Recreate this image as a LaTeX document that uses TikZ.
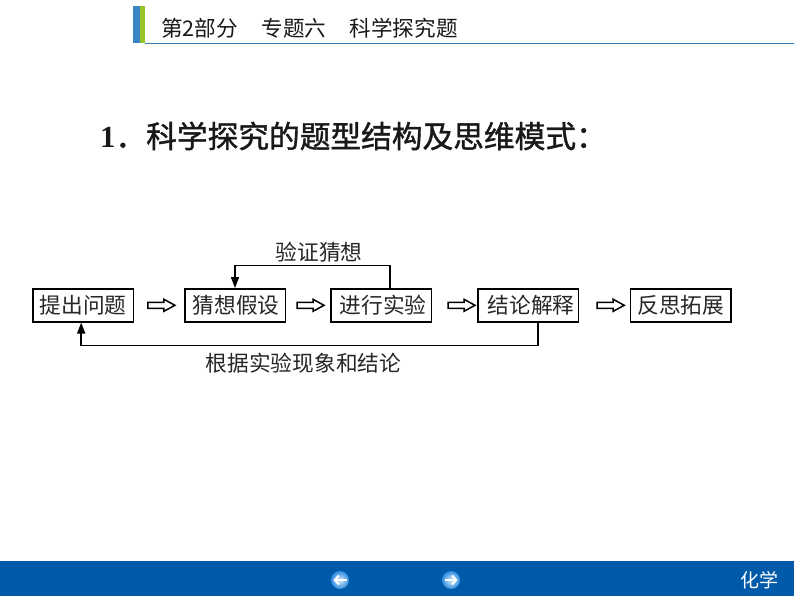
\documentclass[tikz,border=0pt]{standalone}
\usepackage{fontspec}
\usetikzlibrary{arrows.meta,calc}
\setmainfont{Noto Sans CJK SC}
\newfontfamily\cjkheavy[FakeBold=1.3]{Noto Sans CJK SC}
\newfontfamily\numserif{Liberation Serif}
\definecolor{barblue}{RGB}{0,90,170}
\definecolor{stripblue}{RGB}{58,134,196}
\definecolor{stripgreen}{RGB}{150,195,40}
\definecolor{rulecol}{RGB}{55,125,175}
\definecolor{btnlight}{RGB}{215,238,250}
\definecolor{btndark}{RGB}{50,140,225}
\tikzset{
  x=1pt,y=-1pt,
  flowbox/.style={draw=black,line width=1.5pt,minimum width=100.5pt,minimum height=33pt,inner sep=0pt,font=\fontsize{21.7}{24}\selectfont,text=black!85},
  caption/.style={font=\fontsize{21.7}{24}\selectfont,text=black!85,inner sep=0pt},
  feedback/.style={draw=black,line width=1.5pt,-{Triangle[length=11pt,width=8pt]}},
  hollow/.style={draw=black,line width=1.5pt,fill=white,line join=miter},
  navbtn/.style={circle,minimum size=18pt,inner sep=0pt,shading=radial,inner color=btnlight,outer color=btndark},
  navarrow/.style={white,line width=2pt,-{Straight Barb[length=4pt,width=9pt]}}
}
\newcommand{\hollowarrow}[2]{%
  \draw[hollow] ([xshift=#2]#1.east) ++(0,-3) -- ++(16,0) -- ++(0,-3) -- ++(11,6) -- ++(-11,6) -- ++(0,-3) -- ++(-16,0) -- cycle;}
\begin{document}
\begin{tikzpicture}
\useasboundingbox (0,0) rectangle (794,596);
\fill[white] (0,0) rectangle (794,596);
% header
\fill[stripblue] (133,6) rectangle (140,43.5);
\fill[stripgreen] (140,6) rectangle (144.5,43.5);
\draw[rulecol,line width=1.2pt] (144.5,43.5) -- (794,43.5);
\node[anchor=west,inner sep=0pt,font=\fontsize{21.6}{24}\selectfont,text=black!90] (head) at (161,28) {第2部分\hspace{23.5pt}专题六\hspace{23.5pt}科学探究题};
% title
\node[anchor=west,inner sep=0pt,font=\cjkheavy\fontsize{30.7}{33}\selectfont,text=black!90] (title) at (100,136) {{\numserif\bfseries 1}．科学探究的题型结构及思维模式：};
% boxes
\node[flowbox] (ask) at (83.2,305.3) {提出问题};
\node[flowbox] (hyp) at (235,305.3) {\hspace{2pt}猜想假设};
\node[flowbox] (exp) at (381,305.3) {\hspace{4pt}进行实验};
\node[flowbox] (con) at (528.2,305.3) {\hspace{6pt}结论解释};
\node[flowbox] (ref) at (680.8,305.3) {反思拓展};
% hollow arrows
\hollowarrow{ask}{13.7pt}
\hollowarrow{hyp}{11pt}
\hollowarrow{exp}{16pt}
\hollowarrow{con}{18pt}
% feedback
\coordinate (topy) at (0,265.7);
\coordinate (boty) at (0,345.7);
\draw[feedback] ([xshift=9pt]exp.north) -- ([xshift=9pt]exp.north |- topy) -- (hyp.north |- topy) -- (hyp.north);
\draw[feedback] ([xshift=10pt]con.south) -- ([xshift=10pt]con.south |- boty) -- ([xshift=-2pt]ask.south |- boty) -- ([xshift=-2pt]ask.south);
\node[caption] (up) at (319,252.5) {验证猜想};
\node[caption] (down) at (303.5,363) {根据实验现象和结论};
% footer
\fill[barblue] (0,561) rectangle (794,596);
\node[navbtn] (prev) at (340,580) {};
\node[navbtn] (next) at (451,580) {};
\draw[navarrow] ([xshift=6.5pt]prev.center) -- ([xshift=-6.5pt]prev.center);
\draw[navarrow] ([xshift=-6.5pt]next.center) -- ([xshift=6.5pt]next.center);
\node[inner sep=0pt,text=white,font=\fontsize{19}{22}\selectfont] (subj) at (759,580) {化学};
\end{tikzpicture}
\end{document}
